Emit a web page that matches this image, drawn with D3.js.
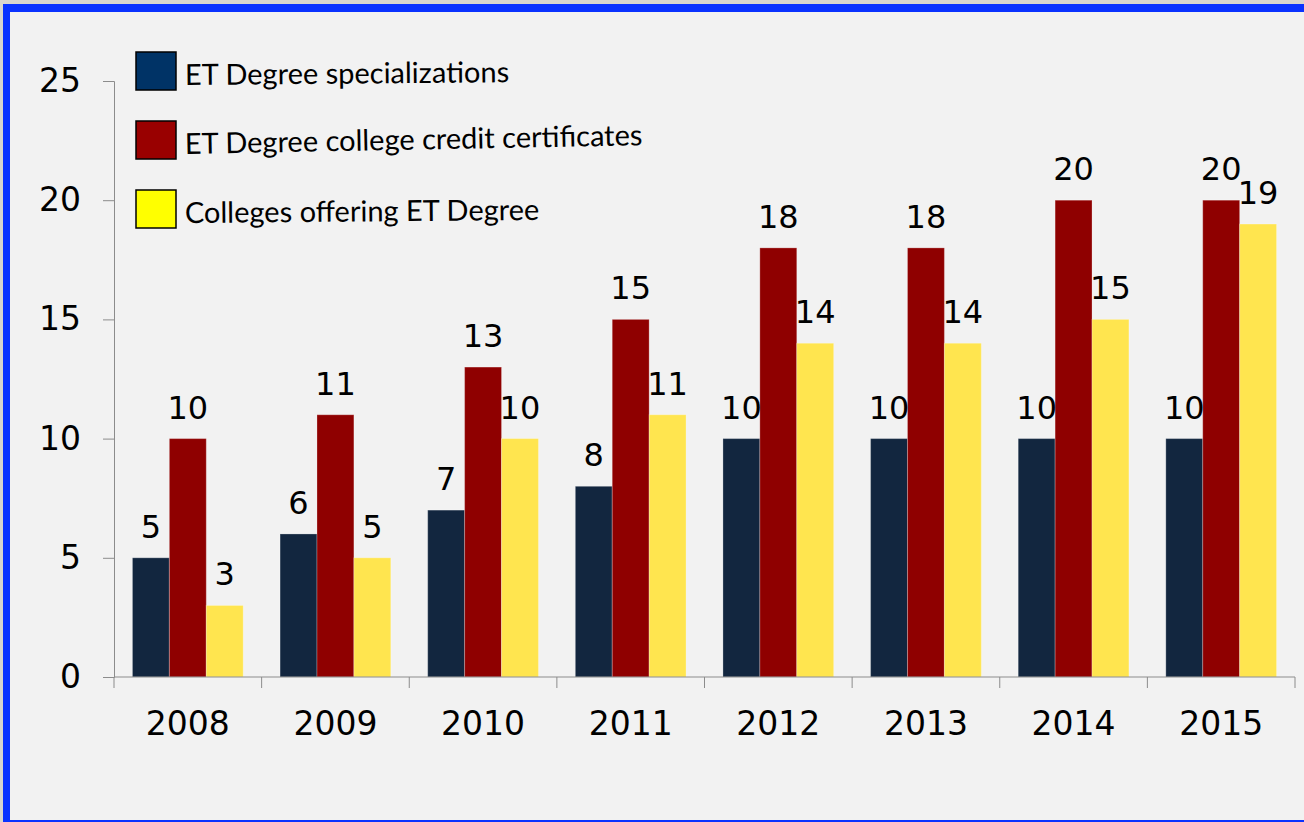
<!DOCTYPE html>
<html>
<head>
<meta charset="utf-8">
<script src="https://cdn.jsdelivr.net/npm/d3@7"></script>
<style>
  html, body { margin: 0; padding: 0; background: #d9d5ce; }
  svg { display: block; }
</style>
</head>
<body>
<div id="chart"></div>
<script>
const years = ["2008", "2009", "2010", "2011", "2012", "2013", "2014", "2015"];
const specializations = [5, 6, 7, 8, 10, 10, 10, 10];
const certificates = [10, 11, 13, 15, 18, 18, 20, 20];
const colleges = [3, 5, 10, 11, 14, 14, 15, 19];
const seriesNames = [
  "ET Degree specializations",
  "ET Degree college credit certificates",
  "Colleges offering ET Degree"
];
const yTicks = [0, 5, 10, 15, 20, 25];

const W = 1304, H = 822;
const BAR_COLORS = ["#12263f", "#8f0000", "#ffe54f"];
const KEY_COLORS = ["#003366", "#990000", "#ffff00"];
const NUM_FONT = "'DejaVu Sans', sans-serif";

const series = [specializations, certificates, colleges];

const svg = d3.select("#chart").append("svg")
  .attr("width", W)
  .attr("height", H);

// frame: blue border on left/top/bottom, light grey panel
svg.append("rect").attr("x", 3).attr("y", 4).attr("width", W - 3).attr("height", H - 4)
  .attr("fill", "#0a32ff");
svg.append("rect").attr("x", 10).attr("y", 12).attr("width", W - 10).attr("height", H - 14)
  .attr("fill", "#f2f2f2");

const x0 = d3.scaleBand().domain(years).range([114, 1295]).paddingInner(0.25).paddingOuter(0.125);
const x1 = d3.scaleBand().domain(d3.range(series.length)).range([0, x0.bandwidth()]);
const y = d3.scaleLinear().domain([0, 25]).range([677, 81]);

// bars
const groups = svg.append("g").selectAll("g")
  .data(years)
  .join("g")
  .attr("transform", d => `translate(${x0(d)},0)`);

groups.selectAll("rect")
  .data((d, i) => series.map((s, k) => ({ k, v: s[i] })))
  .join("rect")
  .attr("x", d => x1(d.k))
  .attr("y", d => y(d.v))
  .attr("width", x1.bandwidth())
  .attr("height", d => y(0) - y(d.v))
  .attr("fill", d => BAR_COLORS[d.k])
  .attr("stroke", "#ffffff")
  .attr("stroke-opacity", 0.25)
  .attr("stroke-width", 1);

groups.selectAll("text")
  .data((d, i) => series.map((s, k) => ({ k, v: s[i] })))
  .join("text")
  .attr("x", d => x1(d.k) + x1.bandwidth() / 2)
  .attr("y", d => y(d.v) - 20)
  .attr("text-anchor", "middle")
  .style("font-family", NUM_FONT)
  .style("font-size", "32px")
  .style("fill", "#000")
  .text(d => d.v);

// y axis
const yAxis = svg.append("g")
  .attr("transform", "translate(114,0)")
  .call(d3.axisLeft(y).tickValues(yTicks).tickSize(11).tickPadding(22));
yAxis.select(".domain").attr("stroke", "#8c8c8c");
yAxis.selectAll(".tick line").attr("stroke", "#8c8c8c");
yAxis.selectAll(".tick text")
  .style("font-family", NUM_FONT)
  .style("font-size", "33px")
  .attr("fill", "#000");

// x axis with ticks between categories
const xAxis = svg.append("g").attr("transform", `translate(0,${y(0)})`);
xAxis.append("line")
  .attr("x1", 114).attr("x2", 1295)
  .attr("stroke", "#8c8c8c");
const edges = years.map(d => x0(d) - x0.step() * x0.paddingInner() / 2).concat([1295]);
xAxis.selectAll("line.tk")
  .data(edges)
  .join("line")
  .attr("class", "tk")
  .attr("x1", d => d).attr("x2", d => d)
  .attr("y1", 0).attr("y2", 11)
  .attr("stroke", "#8c8c8c");
xAxis.selectAll("text")
  .data(years)
  .join("text")
  .attr("x", d => x0(d) + x0.bandwidth() / 2)
  .attr("y", 58)
  .attr("text-anchor", "middle")
  .style("font-family", NUM_FONT)
  .style("font-size", "33px")
  .style("fill", "#000")
  .text(d => d);

// legend
const legend = svg.append("g");
const tilt = [-0.5, -1.1, -0.5];
seriesNames.forEach((name, i) => {
  const top = 52 + i * 69;
  legend.append("rect")
    .attr("x", 136).attr("y", top)
    .attr("width", 40).attr("height", 38)
    .attr("fill", KEY_COLORS[i])
    .attr("stroke", "#000").attr("stroke-width", 1.5);
  legend.append("text")
    .attr("x", 185).attr("y", top + 33)
    .attr("transform", `rotate(${tilt[i]},185,${top + 33})`)
    .style("font-family", "Lato, 'Open Sans', sans-serif")
    .style("font-size", "29px")
    .style("fill", "#000")
    .text(name);
});
</script>
</body>
</html>
